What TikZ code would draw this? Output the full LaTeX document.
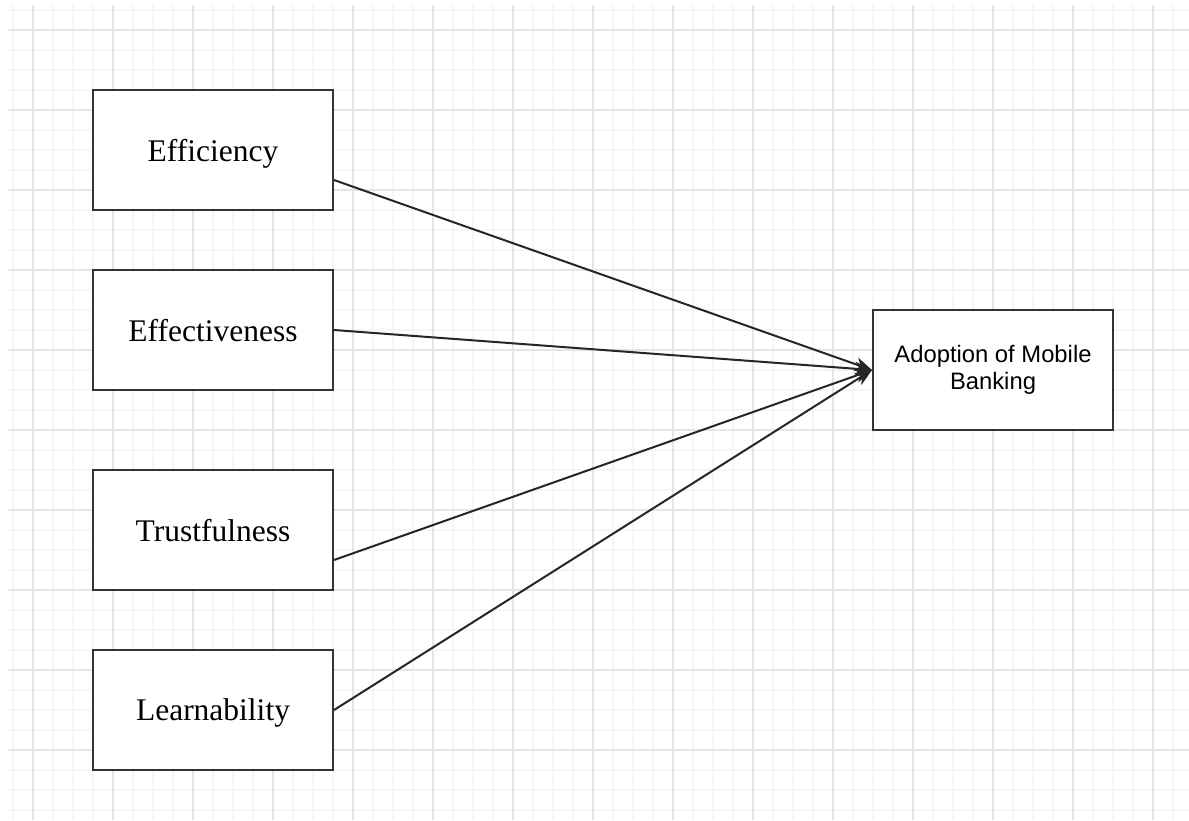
\documentclass[tikz,border=0pt]{standalone}
\usepackage{fontspec}
\setmainfont{Liberation Serif}
\newfontfamily\labelsans{Liberation Sans}
\usetikzlibrary{arrows.meta}
\begin{document}
\begin{tikzpicture}[x=1pt,y=-1pt,
  factor/.style={draw=black!80,line width=2pt,fill=white,minimum width=240pt,minimum height=120pt,
    inner sep=0pt,text depth=0pt,font=\fontsize{31.5}{36}\selectfont},
  outcome/.style={draw=black!80,line width=2pt,fill=white,minimum width=240pt,minimum height=120pt,
    inner sep=0pt,align=center,font=\labelsans\fontsize{23.8}{27}\selectfont},
  link/.style={line width=2pt,draw=black!85,-{Stealth[length=17pt,width=14pt,inset=5pt]}},
  minorgrid/.style={draw=black!4,line width=1.5pt},
  majorgrid/.style={draw=black!10,line width=1.5pt}]
\useasboundingbox (0,0) rectangle (1189,820);
\fill[white] (0,0) rectangle (1189,820);
% background grid
\foreach \x in {13,33,...,1189} \draw[minorgrid] (\x,5) -- (\x,820);
\foreach \y in {10,30,...,820} \draw[minorgrid] (8,\y) -- (1189,\y);
\foreach \x in {33,113,...,1189} \draw[majorgrid] (\x,5) -- (\x,820);
\foreach \y in {30,110,...,820} \draw[majorgrid] (8,\y) -- (1189,\y);
% nodes
\node[factor] (eff)  at (213,150) {Efficiency};
\node[factor] (effv) at (213,330) {Effectiveness};
\node[factor] (trust) at (213,530) {Trustfulness};
\node[factor] (learn) at (213,710) {Learnability};
\node[outcome] (adopt) at (993,370) {Adoption of Mobile\\Banking};
% connectors
\draw[link] ([yshift=-30pt]eff.east) -- (adopt.west);
\draw[link] (effv.east) -- (adopt.west);
\draw[link] ([yshift=-30pt]trust.east) -- (adopt.west);
\draw[link] (learn.east) -- (adopt.west);
\end{tikzpicture}
\end{document}
